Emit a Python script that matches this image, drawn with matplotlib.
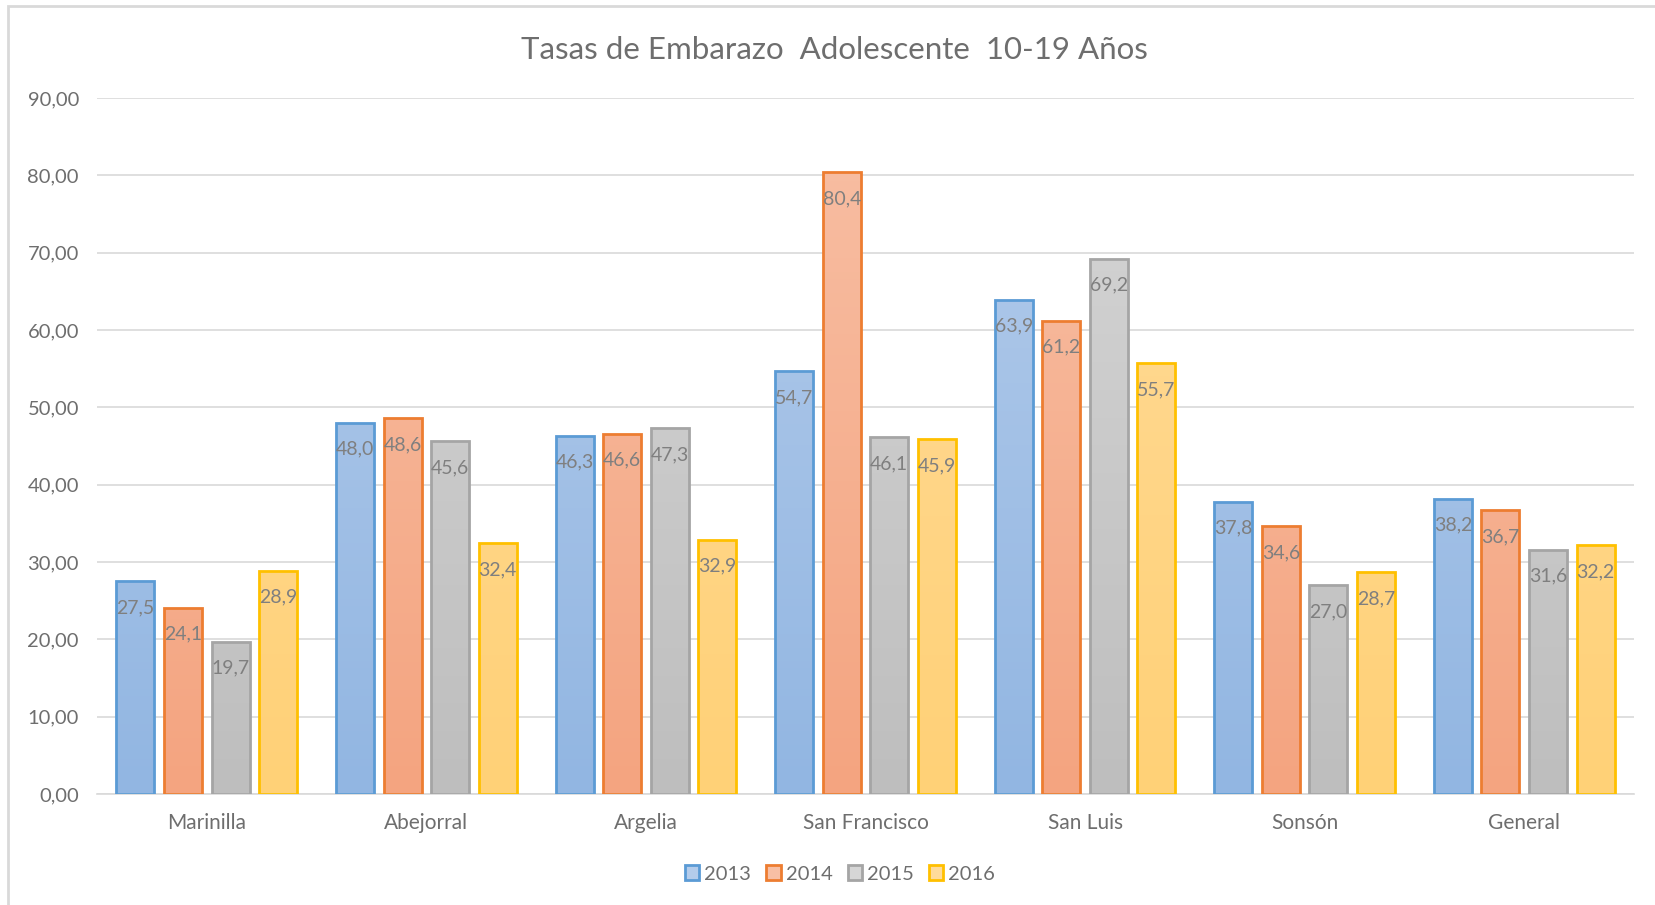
import numpy as np
import matplotlib.pyplot as plt
from matplotlib.patches import Patch, Rectangle
from matplotlib.colors import LinearSegmentedColormap

municipios = ['Marinilla', 'Abejorral', 'Argelia', 'San Francisco', 'San Luis', 'Sonsón', 'General']
anios = ['2013', '2014', '2015', '2016']
tasas_2013 = [27.5, 48.0, 46.3, 54.7, 63.9, 37.8, 38.2]
tasas_2014 = [24.1, 48.6, 46.6, 80.4, 61.2, 34.6, 36.7]
tasas_2015 = [19.7, 45.6, 47.3, 46.1, 69.2, 27.0, 31.6]
tasas_2016 = [28.9, 32.4, 32.9, 45.9, 55.7, 28.7, 32.2]
series = [tasas_2013, tasas_2014, tasas_2015, tasas_2016]

# (edge, fill top, fill bottom)
colores = [('#5B9BD5', '#B4CCEB', '#92B6E2'),
           ('#ED7D31', '#F8BFA4', '#F4A480'),
           ('#A5A5A5', '#D6D6D6', '#BEBEBE'),
           ('#FFC000', '#FFDB9A', '#FFD177')]

plt.rcParams['font.family'] = ['Lato', 'DejaVu Sans']
gris = '#6E6E6E'

fig = plt.figure(figsize=(16.56, 9.05), dpi=100)
ax = fig.add_axes([97 / 1656, 1 - 794 / 905, (1634 - 97) / 1656, (794 - 98) / 905])

x = np.arange(len(municipios))
ancho = 0.173
paso = 0.2165
for i, vals in enumerate(series):
    edge, top, bottom = colores[i]
    cmap = LinearSegmentedColormap.from_list('g%d' % i, [bottom, top])
    pos = x + (i - 1.5) * paso
    bars = ax.bar(pos, vals, width=ancho, facecolor='none', edgecolor=edge, linewidth=2, zorder=3)
    for b, v in zip(bars, vals):
        x0 = b.get_x()
        grad = np.linspace(0, 1, 100).reshape(-1, 1)
        im = ax.imshow(grad, cmap=cmap, origin='lower', aspect='auto',
                       extent=[x0, x0 + ancho, 0, 90], zorder=2)
        im.set_clip_path(b)
        ax.annotate(('%.1f' % v).replace('.', ','), (b.get_x() + ancho / 2, v),
                    xytext=(0, -19), textcoords='offset points', ha='center', va='center',
                    fontsize=14, color='#7F7F7F', zorder=4)

ax.set_xlim(-0.5, len(municipios) - 0.5)
ax.set_ylim(0, 90)
ax.set_yticks(np.arange(0, 91, 10))
ax.set_yticklabels([('%.2f' % t).replace('.', ',') for t in np.arange(0, 91, 10)])
ax.set_xticks(x)
ax.set_xticklabels(municipios)
ax.tick_params(axis='both', length=0, labelsize=14.5, colors=gris)
ax.tick_params(axis='x', labelsize=15, pad=14)
ax.tick_params(axis='y', pad=13)
ax.grid(axis='y', color='#D9D9D9', linewidth=1.2, zorder=0)
ax.set_axisbelow(True)
for s in ['top', 'right', 'left']:
    ax.spines[s].set_visible(False)
ax.spines['bottom'].set_color('#D9D9D9')
ax.spines['bottom'].set_linewidth(1.2)

fig.text(834 / 1656, 1 - 50 / 905, 'Tasas de Embarazo  Adolescente  10-19 Años',
         ha='center', va='center', fontsize=22.5, color=gris)

handles = [Patch(facecolor=colores[i][1], edgecolor=colores[i][0], linewidth=2) for i in range(4)]
fig.legend(handles, anios, loc='center', bbox_to_anchor=(840 / 1656, 1 - 874 / 905), ncol=4,
           frameon=False, fontsize=14.5, handlelength=0.7, handleheight=0.7,
           handletextpad=0.25, columnspacing=0.75, labelcolor=gris)

fig.patches.append(Rectangle((8 / 1656, -0.1), 1.2, 1 - 6 / 905 + 0.1, transform=fig.transFigure,
                             facecolor='none', edgecolor='#D9D9D9', linewidth=2))

fig.savefig('out.png', dpi=100)
